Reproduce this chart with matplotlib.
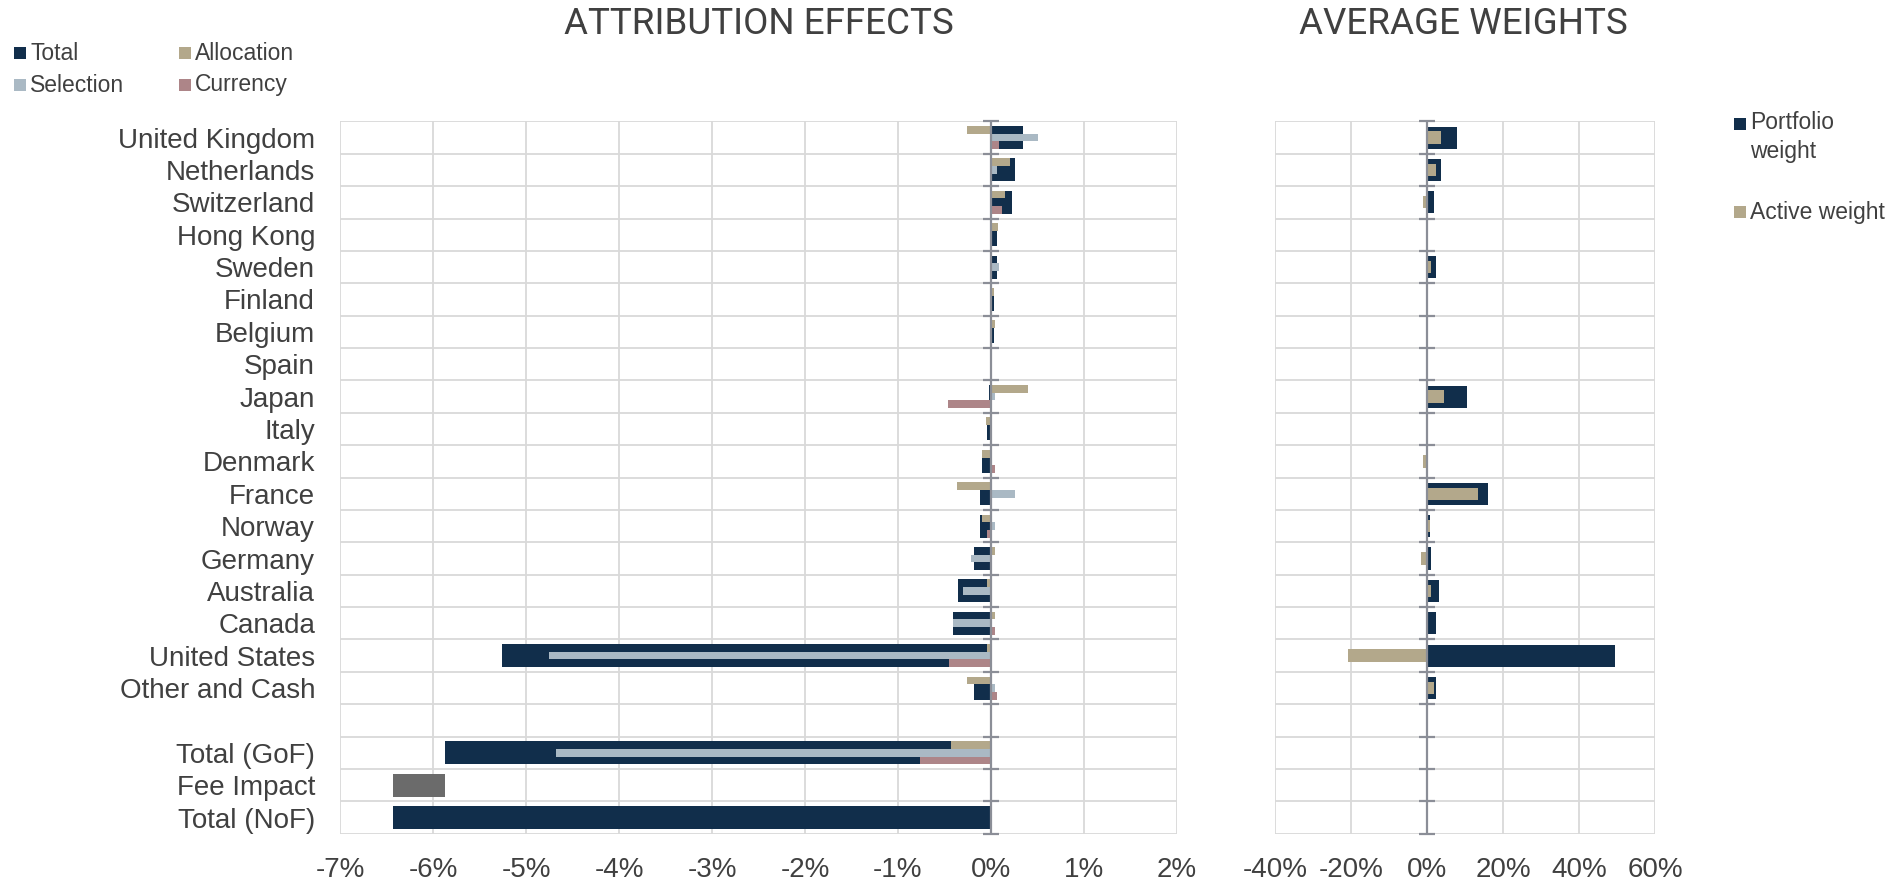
"""
Attribution effects and average weights by country
"""

import matplotlib as mpl
import matplotlib.pyplot as plt
import numpy as np
from matplotlib.patches import Rectangle

mpl.use("Agg")

# Data (percent)
countries = [
    "United Kingdom", "Netherlands", "Switzerland", "Hong Kong", "Sweden",
    "Finland", "Belgium", "Spain", "Japan", "Italy", "Denmark", "France",
    "Norway", "Germany", "Australia", "Canada", "United States", "Other and Cash",
]
total = [0.35, 0.26, 0.23, 0.06, 0.06, 0.03, 0.03, -0.01, -0.02, -0.04,
         -0.10, -0.12, -0.12, -0.18, -0.35, -0.41, -5.26, -0.18]
allocation = [-0.26, 0.21, 0.15, 0.08, -0.01, 0.03, 0.04, -0.01, 0.40, -0.05,
              -0.10, -0.37, -0.10, 0.04, -0.04, 0.04, -0.04, -0.26]
selection = [0.51, 0.06, -0.01, 0.0, 0.09, 0.0, -0.01, 0.0, 0.04, 0.0,
             -0.01, 0.26, 0.04, -0.21, -0.30, -0.41, -4.75, 0.04]
currency = [0.09, -0.01, 0.12, -0.01, -0.01, 0.0, 0.0, 0.0, -0.46, 0.0,
            0.04, 0.0, -0.04, 0.0, 0.0, 0.04, -0.45, 0.06]

summary_labels = ["", "Total (GoF)", "Fee Impact", "Total (NoF)"]
gof_total, gof_allocation, gof_selection, gof_currency = -5.87, -0.43, -4.68, -0.76
fee_impact = -0.56
nof_total = -6.43

portfolio_weight = [7.9, 3.8, 1.75, 0.1, 2.4, 0.1, 0.1, 0.1, 10.5, 0.1,
                    0.2, 16.1, 0.9, 1.05, 3.1, 2.4, 49.6, 2.4]
active_weight = [3.8, 2.4, -1.05, -0.2, 1.1, -0.2, -0.2, -0.2, 4.5, -0.3,
                 -1.0, 13.3, 0.85, -1.7, 1.05, -0.3, -20.8, 1.75]

left_ticks = list(range(-7, 3))
right_ticks = list(range(-40, 61, 20))

# Colours
navy = "#112e4b"
tan = "#b3a88b"
steel = "#aab9c4"
mauve = "#ad8588"
fee_grey = "#6b6b6b"
grid_c = "#d9d9d9"
axis_c = "#8b8e97"
text_c = "#404040"

plt.rcParams["font.family"] = ["Liberation Sans", "DejaVu Sans"]

fig = plt.figure(figsize=(19.01, 8.86), dpi=100)
ax = fig.add_axes([0.1789, 0.059, 0.4402, 0.804])
ax2 = fig.add_axes([0.6707, 0.059, 0.1999, 0.804])

labels = countries + summary_labels
n = len(labels)
y = np.arange(n)
yc = np.arange(len(countries))
bounds = np.arange(-0.5, n)
sub = 0.237

# Left: attribution effects
ax.barh(yc, total, height=0.71, color=navy, zorder=2)
ax.barh(yc - sub, allocation, height=sub, color=tan, zorder=3)
ax.barh(yc, selection, height=sub, color=steel, zorder=3)
ax.barh(yc + sub, currency, height=sub, color=mauve, zorder=3)

i_gof, i_fee, i_nof = n - 3, n - 2, n - 1
ax.barh(i_gof, gof_total, height=0.71, color=navy, zorder=2)
ax.barh(i_gof - sub, gof_allocation, height=sub, color=tan, zorder=3)
ax.barh(i_gof, gof_selection, height=sub, color=steel, zorder=3)
ax.barh(i_gof + sub, gof_currency, height=sub, color=mauve, zorder=3)
ax.barh(i_fee, fee_impact, left=gof_total, height=0.71, color=fee_grey, zorder=2)
ax.barh(i_nof, nof_total, height=0.71, color=navy, zorder=2)

# Right: average weights
ax2.barh(yc, portfolio_weight, height=0.68, color=navy, zorder=2)
ax2.barh(yc, active_weight, height=0.38, color=tan, zorder=3)

for a, ticks in ((ax, left_ticks), (ax2, right_ticks)):
    a.set_ylim(n - 0.5, -0.5)
    a.set_xlim(ticks[0], ticks[-1])
    a.set_xticks(ticks)
    a.set_xticklabels([f"{t}%" for t in ticks], fontsize=20, color=text_c)
    a.set_yticks(bounds, minor=True)
    a.grid(axis="x", which="major", color=grid_c, lw=1.3, zorder=0)
    a.grid(axis="y", which="minor", color=grid_c, lw=1.3, zorder=0)
    a.tick_params(axis="x", length=0, pad=17)
    a.tick_params(axis="y", which="both", length=0)
    for s in a.spines.values():
        s.set_visible(False)
    a.axvline(0, color=axis_c, lw=1.6, zorder=4)
    a.plot(np.zeros(len(bounds)), bounds, ls="none", marker="_", ms=12,
           mew=1.6, color=axis_c, zorder=4, clip_on=False)

ax.set_yticks(y)
ax.set_yticklabels(labels, fontsize=20, color=text_c)
ax.tick_params(axis="y", pad=18)
ax2.set_yticks(y)
ax2.set_yticklabels([])

# Titles
title_font = ["Roboto", "DejaVu Sans"]
fig.text(0.399, 0.973, "ATTRIBUTION EFFECTS", ha="center", va="center",
         fontsize=26.5, color=text_c, family=title_font)
fig.text(0.7696, 0.973, "AVERAGE WEIGHTS", ha="center", va="center",
         fontsize=26.5, color=text_c, family=title_font)

# Legends drawn by hand
W, H = 1901, 886
sq = 12


def legend_item(xpx, ypx, color, label, tx_off=16, va="center", ls=1.2):
    fig.patches.append(Rectangle(((xpx) / W, 1 - (ypx + sq / 2) / H), sq / W, sq / H,
                                 transform=fig.transFigure, facecolor=color,
                                 edgecolor="none"))
    fig.text((xpx + tx_off) / W, 1 - ypx / H, label, ha="left", va=va,
             fontsize=16.5, color=text_c, linespacing=ls)


legend_item(14, 53, navy, "Total")
legend_item(179, 53, tan, "Allocation")
legend_item(14, 85, steel, "Selection")
legend_item(179, 85, mauve, "Currency")

legend_item(1734, 124, navy, "Portfolio\nweight", va="top", ls=1.35)
fig.texts[-1].set_y(1 - 111 / H)
legend_item(1734, 212, tan, "Active weight")

plt.savefig("out.png", dpi=100, facecolor="white")
